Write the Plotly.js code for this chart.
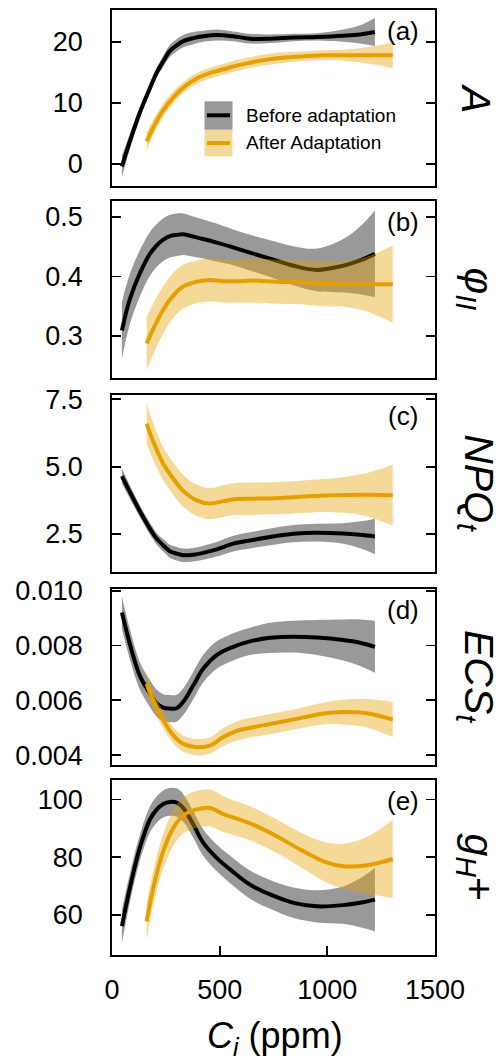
<!DOCTYPE html>
<html>
<head>
<meta charset="utf-8">
<script src="https://cdn.plot.ly/plotly-3.0.1.min.js"></script>
<style>html,body{margin:0;padding:0;background:#fff;}#chart{width:496px;height:1061px;}</style>
</head>
<body>
<div id="chart"></div>
<script>
// x grids (Ci, ppm)
const ciBefore = [46, 83, 129, 176, 207, 238, 269, 300, 331, 378, 424, 486, 563, 641, 734, 843, 951, 1074, 1152, 1221];
const ciAfter  = [161, 192, 238, 285, 331, 393, 455, 517, 579, 656, 765, 874, 982, 1074, 1183, 1304];

// (a) A
const aBefore   = [-0.4, 3.7, 8.4, 12.4, 14.9, 16.8, 18.5, 19.4, 20.1, 20.6, 20.9, 21.1, 20.9, 20.5, 20.5, 20.7, 20.8, 21.0, 21.2, 21.6];
const aBeforeSe = [1.8, 1.2, 0.9, 0.8, 0.8, 0.9, 1.0, 1.0, 1.0, 1.0, 0.9, 0.9, 0.8, 0.8, 0.7, 0.6, 0.6, 1.0, 1.5, 2.3];
const aAfter    = [3.7, 6.0, 8.8, 10.9, 12.5, 14.0, 14.9, 15.5, 16.1, 16.7, 17.3, 17.6, 17.8, 17.8, 17.8, 17.8];
const aAfterSe  = [1.5, 1.3, 1.1, 1.0, 0.9, 0.9, 0.9, 0.9, 0.9, 0.9, 0.9, 0.8, 0.8, 0.9, 1.3, 2.1];

// (b) PhiII
const bBefore   = [0.309, 0.362, 0.405, 0.438, 0.452, 0.462, 0.468, 0.470, 0.471, 0.467, 0.463, 0.457, 0.449, 0.440, 0.430, 0.418, 0.411, 0.418, 0.427, 0.438];
const bBeforeSe = [0.048, 0.042, 0.039, 0.037, 0.036, 0.036, 0.036, 0.036, 0.035, 0.034, 0.033, 0.032, 0.030, 0.030, 0.031, 0.033, 0.036, 0.045, 0.057, 0.073];
const bAfter    = [0.287, 0.312, 0.344, 0.368, 0.383, 0.391, 0.394, 0.392, 0.392, 0.393, 0.391, 0.390, 0.388, 0.387, 0.387, 0.387];
const bAfterSe  = [0.045, 0.043, 0.040, 0.038, 0.037, 0.036, 0.036, 0.036, 0.036, 0.037, 0.037, 0.037, 0.038, 0.038, 0.046, 0.065];

// (c) NPQt
const cBefore   = [4.65, 4.06, 3.35, 2.70, 2.33, 2.08, 1.86, 1.77, 1.71, 1.73, 1.80, 1.93, 2.14, 2.26, 2.39, 2.51, 2.55, 2.52, 2.47, 2.41];
const cBeforeSe = [0.28, 0.25, 0.22, 0.22, 0.22, 0.23, 0.24, 0.25, 0.25, 0.25, 0.26, 0.27, 0.29, 0.30, 0.31, 0.32, 0.33, 0.38, 0.50, 0.66];
const cAfter    = [6.60, 5.92, 5.11, 4.55, 4.10, 3.75, 3.63, 3.72, 3.80, 3.81, 3.83, 3.88, 3.93, 3.95, 3.96, 3.94];
const cAfterSe  = [0.77, 0.68, 0.62, 0.60, 0.59, 0.58, 0.58, 0.59, 0.60, 0.60, 0.60, 0.60, 0.61, 0.66, 0.80, 1.13];

// (d) ECSt
const dBefore   = [0.00920, 0.00805, 0.00690, 0.00625, 0.00590, 0.00573, 0.00570, 0.00571, 0.00595, 0.00655, 0.00716, 0.00765, 0.00795, 0.00815, 0.00828, 0.00832, 0.00829, 0.00820, 0.00810, 0.00795];
const dBeforeSe = [0.0006, 0.00055, 0.0005, 0.00049, 0.00049, 0.00049, 0.00049, 0.00049, 0.00049, 0.0005, 0.0005, 0.0005, 0.0005, 0.0005, 0.00055, 0.00058, 0.00064, 0.00075, 0.00085, 0.00095];
const dAfter    = [0.00660, 0.00600, 0.00527, 0.00472, 0.00441, 0.00429, 0.00435, 0.00466, 0.00488, 0.00502, 0.00518, 0.00535, 0.00552, 0.00557, 0.00553, 0.00530];
const dAfterSe  = [0.0004, 0.00035, 0.0003, 0.0003, 0.0003, 0.0003, 0.0003, 0.00033, 0.00035, 0.00036, 0.00037, 0.00037, 0.0004, 0.00045, 0.00052, 0.00064];

// (e) gH+
const eBefore   = [56.1, 69.4, 83.2, 93.1, 96.5, 98.5, 99.2, 99.0, 97.1, 91.3, 85.0, 79.8, 74.9, 70.5, 67.1, 64.2, 63.0, 63.4, 64.2, 65.3];
const eBeforeSe = [5.8, 5.0, 4.5, 4.5, 4.6, 4.7, 4.8, 4.9, 4.8, 4.6, 4.6, 4.6, 4.8, 4.9, 5.0, 5.3, 5.6, 6.5, 8.5, 11];
const eAfter    = [57.8, 69.4, 82.1, 90.2, 94.5, 96.6, 97.1, 95.0, 93.4, 91.3, 87.3, 82.7, 78.6, 76.9, 77.2, 79.4];
const eAfterSe  = [6.4, 6.0, 6.0, 6.2, 6.3, 6.4, 6.4, 6.2, 6.0, 5.9, 5.8, 6.0, 6.8, 7.8, 9.8, 13.6];

const seriesNames = ['Before adaptation', 'After Adaptation'];
const panelLabels = ['(a)', '(b)', '(c)', '(d)', '(e)'];
const yLabels = ['<i>A</i>', '<i>φ<sub>II</sub></i>', '<i>NPQ<sub>t</sub></i>', '<i>ECS<sub>t</sub></i>', '<i>g<sub>H</sub></i>+'];
const xTitle = '<i>C<sub>i</sub></i> (ppm)';

const BLACK = '#000000', GREY = 'rgba(0,0,0,0.4)';
const ORANGE = '#E69F00', LORANGE = 'rgba(230,159,0,0.4)';
const FONT = 'Liberation Sans, Arial, sans-serif';

const panels = [
  {b: aBefore, bs: aBeforeSe, a: aAfter, as: aAfterSe, range: [-3.6, 25.2], dtick: 10, fmt: 'd', tick0: 0},
  {b: bBefore, bs: bBeforeSe, a: bAfter, as: bAfterSe, range: [0.229, 0.527], dtick: 0.1, fmt: '.1f', tick0: 0},
  {b: cBefore, bs: cBeforeSe, a: cAfter, as: cAfterSe, range: [1.10, 7.67], dtick: 2.5, fmt: '.1f', tick0: 0},
  {b: dBefore, bs: dBeforeSe, a: dAfter, as: dAfterSe, range: [0.00364, 0.01006], dtick: 0.002, fmt: '.3f', tick0: 0},
  {b: eBefore, bs: eBeforeSe, a: eAfter, as: eAfterSe, range: [46.1, 106.8], dtick: 20, fmt: 'd', tick0: 0}
];
const plotTop = 10, plotBottom = 955, plotH = plotBottom - plotTop;
const pxBounds = [[10, 186], [201, 378], [394.7, 571.7], [589, 765], [780, 955]];

const data = [];
const layout = {
  width: 496, height: 1061,
  margin: {l: 112, r: 61, t: 10, b: 106},
  paper_bgcolor: '#fff', plot_bgcolor: '#fff',
  showlegend: false,
  font: {family: FONT, color: '#000', size: 27},
  annotations: [], shapes: []
};

const add = (arr, se, sign) => arr.map((v, i) => v + sign * se[i]);

panels.forEach((p, i) => {
  const n = i + 1;
  const xa = 'x' + (n === 1 ? '' : n), ya = 'y' + (n === 1 ? '' : n);
  const common = {xaxis: xa, yaxis: ya, mode: 'lines', hoverinfo: 'skip'};
  // before: band, line
  data.push(Object.assign({}, common, {x: ciBefore, y: add(p.b, p.bs, -1), line: {width: 0, shape: 'spline'}}));
  data.push(Object.assign({}, common, {x: ciBefore, y: add(p.b, p.bs, 1), line: {width: 0, shape: 'spline'}, fill: 'tonexty', fillcolor: GREY}));
  data.push(Object.assign({}, common, {x: ciBefore, y: p.b, line: {width: 4, color: BLACK, shape: 'spline'}, name: seriesNames[0]}));
  // after: band, line
  data.push(Object.assign({}, common, {x: ciAfter, y: add(p.a, p.as, -1), line: {width: 0, shape: 'spline'}}));
  data.push(Object.assign({}, common, {x: ciAfter, y: add(p.a, p.as, 1), line: {width: 0, shape: 'spline'}, fill: 'tonexty', fillcolor: LORANGE}));
  data.push(Object.assign({}, common, {x: ciAfter, y: p.a, line: {width: 4, color: ORANGE, shape: 'spline'}, name: seriesNames[1]}));

  const [pt, pb] = pxBounds[i];
  const dom = [(plotBottom - pb) / plotH, (plotBottom - pt) / plotH];
  const last = i === panels.length - 1;
  layout['xaxis' + (n === 1 ? '' : n)] = {
    anchor: ya, domain: [0, 1], range: [0, 1500],
    showgrid: false, zeroline: false, showline: true, mirror: true,
    linecolor: '#000', linewidth: 1.8,
    ticks: last ? 'inside' : '', ticklen: 9, tickwidth: 1.8, tickcolor: '#000',
    showticklabels: last, tickvals: [0, 500, 1000, 1500],
    ticklabelstandoff: 10,
    tickfont: {family: FONT, size: 27, color: '#000'},
    fixedrange: true
  };
  layout['yaxis' + (n === 1 ? '' : n)] = {
    anchor: xa, domain: dom, range: p.range,
    showgrid: false, zeroline: false, showline: true, mirror: 'ticks',
    linecolor: '#000', linewidth: 1.8,
    ticks: 'inside', ticklen: 9, tickwidth: 1.8, tickcolor: '#000',
    tick0: p.tick0, dtick: p.dtick, tickformat: p.fmt,
    ticklabelstandoff: 22,
    tickfont: {family: FONT, size: 27, color: '#000'},
    fixedrange: true
  };
  // panel letter
  layout.annotations.push({
    xref: xa + ' domain', yref: ya + ' domain', x: 0.90, y: 1 - 21 / (pb - pt),
    xanchor: 'center', yanchor: 'middle', showarrow: false,
    text: panelLabels[i], font: {family: FONT, size: 26, color: '#000'}
  });
  // right-hand variable label, rotated 90 degrees clockwise
  layout.annotations.push({
    xref: 'paper', yref: 'paper', x: (476 - 112) / 323, y: (plotBottom - (pt + pb) / 2) / plotH,
    xanchor: 'center', yanchor: 'middle', showarrow: false, textangle: 90,
    text: yLabels[i], font: {family: FONT, size: 41, color: '#000'}
  });
});

// x-axis title
layout.annotations.push({
  xref: 'paper', yref: 'paper', x: 0.505, y: (plotBottom - 1038) / plotH,
  xanchor: 'center', yanchor: 'middle', showarrow: false,
  text: xTitle, font: {family: FONT, size: 36, color: '#000'}
});

// legend inside panel (a)
const lx0 = (204.5 - 112) / 323, lx1 = (232.5 - 112) / 323;
const yd = py => (186 - py) / 176;
layout.shapes.push({type: 'rect', xref: 'x domain', yref: 'y domain', x0: lx0, x1: lx1, y0: yd(129.7), y1: yd(101.3), fillcolor: GREY, line: {width: 0}});
layout.shapes.push({type: 'line', xref: 'x domain', yref: 'y domain', x0: (207 - 112) / 323, x1: (230 - 112) / 323, y0: yd(115.3), y1: yd(115.3), line: {color: BLACK, width: 4}});
layout.shapes.push({type: 'rect', xref: 'x domain', yref: 'y domain', x0: lx0, x1: lx1, y0: yd(156.3), y1: yd(129.7), fillcolor: LORANGE, line: {width: 0}});
layout.shapes.push({type: 'line', xref: 'x domain', yref: 'y domain', x0: (207 - 112) / 323, x1: (230 - 112) / 323, y0: yd(143), y1: yd(143), line: {color: ORANGE, width: 4}});
layout.annotations.push({xref: 'x domain', yref: 'y domain', x: (244 - 112) / 323, y: yd(115.5), xanchor: 'left', yanchor: 'middle', showarrow: false, text: seriesNames[0], font: {family: FONT, size: 19, color: '#000'}});
layout.annotations.push({xref: 'x domain', yref: 'y domain', x: (244 - 112) / 323, y: yd(143), xanchor: 'left', yanchor: 'middle', showarrow: false, text: seriesNames[1], font: {family: FONT, size: 19, color: '#000'}});

Plotly.newPlot('chart', data, layout, {staticPlot: true, displayModeBar: false});
</script>
</body>
</html>
